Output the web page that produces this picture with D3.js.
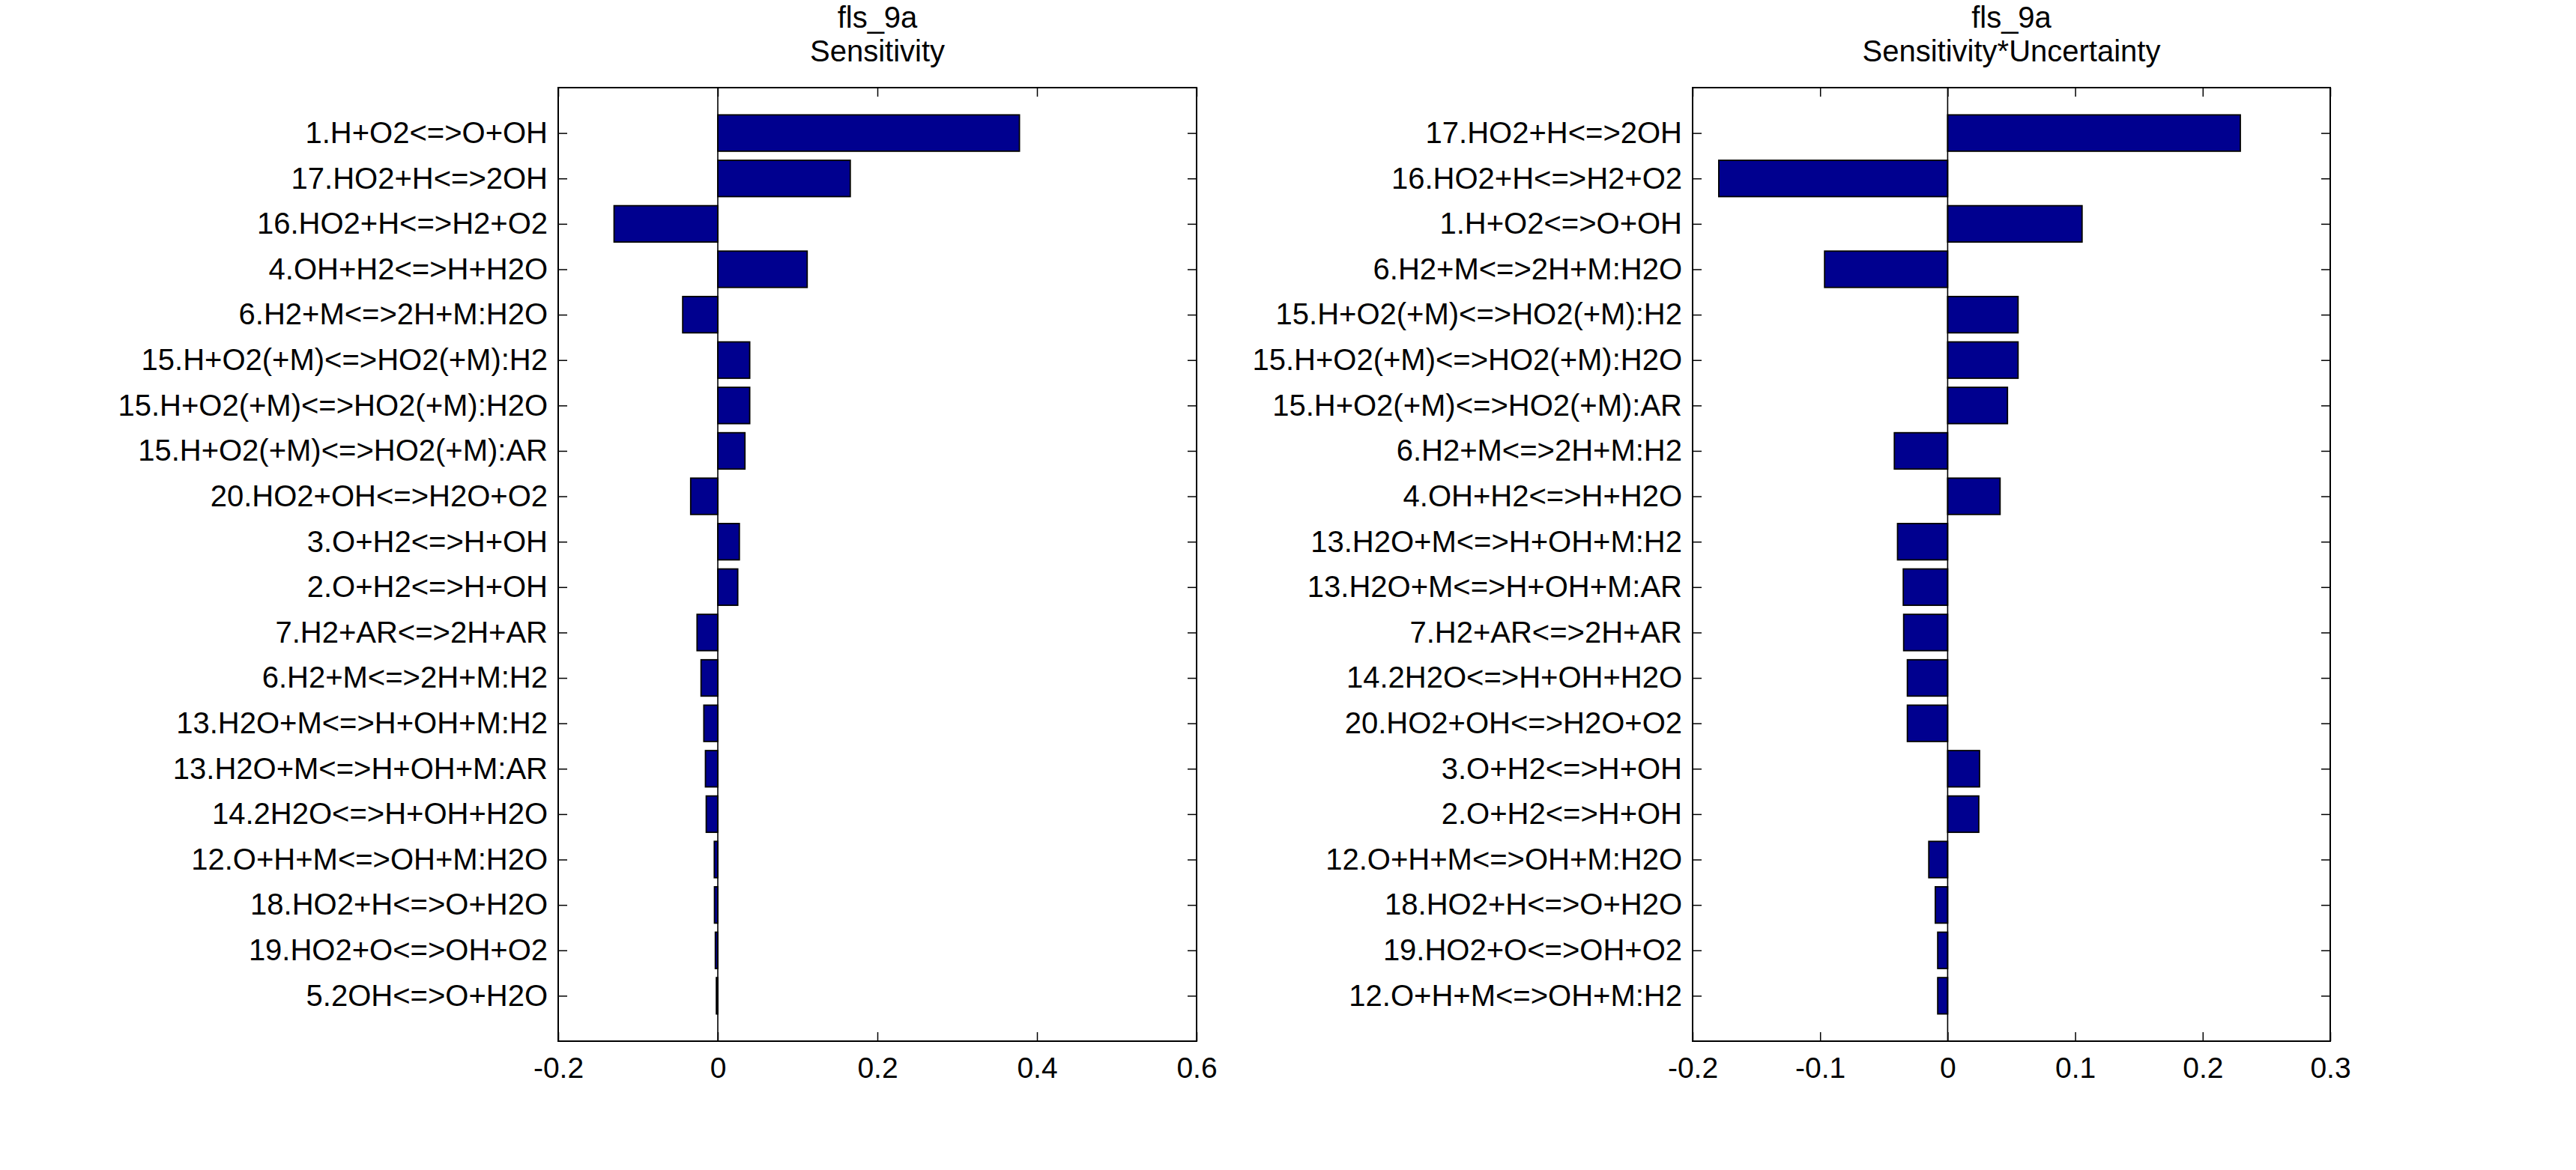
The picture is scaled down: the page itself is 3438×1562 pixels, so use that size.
<!DOCTYPE html>
<html>
<head>
<meta charset="utf-8">
<script src="https://cdn.jsdelivr.net/npm/d3@7"></script>
<style>
  html, body { margin: 0; padding: 0; background: #fff; }
  svg { display: block; }
  text { font-family: "Liberation Sans", Arial, Helvetica, sans-serif; fill: #000; }
</style>
</head>
<body>
<svg id="chart" width="3438" height="1562"></svg>
<script>
// ---- data ----
var titleTop = "fls_9a";

var sensLabels = [
    "1.H+O2<=>O+OH", "17.HO2+H<=>2OH", "16.HO2+H<=>H2+O2", "4.OH+H2<=>H+H2O",
    "6.H2+M<=>2H+M:H2O", "15.H+O2(+M)<=>HO2(+M):H2", "15.H+O2(+M)<=>HO2(+M):H2O",
    "15.H+O2(+M)<=>HO2(+M):AR", "20.HO2+OH<=>H2O+O2", "3.O+H2<=>H+OH", "2.O+H2<=>H+OH",
    "7.H2+AR<=>2H+AR", "6.H2+M<=>2H+M:H2", "13.H2O+M<=>H+OH+M:H2", "13.H2O+M<=>H+OH+M:AR",
    "14.2H2O<=>H+OH+H2O", "12.O+H+M<=>OH+M:H2O", "18.HO2+H<=>O+H2O", "19.HO2+O<=>OH+O2",
    "5.2OH<=>O+H2O"
];
var sensValues = [
    0.378, 0.166, -0.130, 0.112, -0.044, 0.040, 0.040, 0.034, -0.034, 0.027, 0.025,
    -0.026, -0.021, -0.0175, -0.0155, -0.0145, -0.0044, -0.0042, -0.0031, -0.0018
];
var sensTicks = [-0.2, 0, 0.2, 0.4, 0.6];

var suLabels = [
    "17.HO2+H<=>2OH", "16.HO2+H<=>H2+O2", "1.H+O2<=>O+OH", "6.H2+M<=>2H+M:H2O",
    "15.H+O2(+M)<=>HO2(+M):H2", "15.H+O2(+M)<=>HO2(+M):H2O", "15.H+O2(+M)<=>HO2(+M):AR",
    "6.H2+M<=>2H+M:H2", "4.OH+H2<=>H+H2O", "13.H2O+M<=>H+OH+M:H2", "13.H2O+M<=>H+OH+M:AR",
    "7.H2+AR<=>2H+AR", "14.2H2O<=>H+OH+H2O", "20.HO2+OH<=>H2O+O2", "3.O+H2<=>H+OH",
    "2.O+H2<=>H+OH", "12.O+H+M<=>OH+M:H2O", "18.HO2+H<=>O+H2O", "19.HO2+O<=>OH+O2",
    "12.O+H+M<=>OH+M:H2"
];
var suValues = [
    0.2295, -0.1795, 0.1054, -0.0965, 0.0552, 0.0552, 0.0469, -0.0418, 0.0411, -0.0393,
    -0.0348, -0.0345, -0.0316, -0.0316, 0.0250, 0.0244, -0.0148, -0.0097, -0.0078, -0.0078
];
var suTicks = [-0.2, -0.1, 0, 0.1, 0.2, 0.3];

var panels = [
    { sub: "Sensitivity", labels: sensLabels, values: sensValues, ticks: sensTicks, left: 745, right: 1597 },
    { sub: "Sensitivity*Uncertainty", labels: suLabels, values: suValues, ticks: suTicks, left: 2259, right: 3110 }
];

var plotTop = 117, plotBottom = 1390, tickLen = 12, barColor = "#00008f";

var svg = d3.select("#chart");

panels.forEach(function (p) {
    var ticks = p.ticks;
    var x = d3.scaleLinear()
        .domain([ticks[0], ticks[ticks.length - 1]])
        .range([p.left, p.right]);
    var y = d3.scaleLinear()
        .domain([0, p.labels.length + 1])
        .range([plotTop, plotBottom]);
    var rows = d3.range(1, p.labels.length + 1);
    var bw = y(0.8) - y(0);

    var g = svg.append("g");

    // bars
    g.selectAll("rect.bar")
        .data(p.values)
        .enter().append("rect")
        .attr("class", "bar")
        .attr("x", function (d) { return x(Math.min(0, d)); })
        .attr("y", function (d, i) { return y(i + 1) - bw / 2; })
        .attr("width", function (d) { return Math.abs(x(d) - x(0)); })
        .attr("height", bw)
        .attr("fill", barColor)
        .attr("stroke", "#000")
        .attr("stroke-width", 1.8);

    // baseline at zero
    g.append("line")
        .attr("x1", x(0)).attr("x2", x(0))
        .attr("y1", plotTop).attr("y2", plotBottom)
        .attr("stroke", "#000").attr("stroke-width", 1.6);

    // axes (ticks point inward)
    var fmt = function (d) { return d === 0 ? "0" : String(d); };

    var xb = g.append("g").attr("transform", "translate(0," + plotBottom + ")")
        .call(d3.axisBottom(x).tickValues(ticks).tickFormat(fmt)
            .tickSize(-tickLen).tickSizeOuter(0).tickPadding(21));
    var xt = g.append("g").attr("transform", "translate(0," + plotTop + ")")
        .call(d3.axisTop(x).tickValues(ticks).tickFormat("")
            .tickSize(-tickLen).tickSizeOuter(0));
    var yl = g.append("g").attr("transform", "translate(" + p.left + ",0)")
        .call(d3.axisLeft(y).tickValues(rows)
            .tickFormat(function (d) { return p.labels[d - 1]; })
            .tickSize(-tickLen).tickSizeOuter(0).tickPadding(14));
    var yr = g.append("g").attr("transform", "translate(" + p.right + ",0)")
        .call(d3.axisRight(y).tickValues(rows).tickFormat("")
            .tickSize(-tickLen).tickSizeOuter(0));

    [xb, xt, yl, yr].forEach(function (a) {
        a.select(".domain").remove();
        a.selectAll(".tick line").attr("stroke", "#000").attr("stroke-width", 1.5);
        a.selectAll("text").attr("fill", "#000")
            .style("font-family", "'Liberation Sans', Arial, Helvetica, sans-serif");
    });
    xb.selectAll("text").style("font-size", "39px");
    yl.selectAll("text").style("font-size", "40px");

    // axes box
    g.append("rect")
        .attr("x", p.left).attr("y", plotTop)
        .attr("width", p.right - p.left).attr("height", plotBottom - plotTop)
        .attr("fill", "none").attr("stroke", "#000").attr("stroke-width", 2);

    // title
    var cx = (p.left + p.right) / 2;
    g.append("text").attr("x", cx).attr("y", 37)
        .attr("text-anchor", "middle").style("font-size", "40px").text(titleTop);
    g.append("text").attr("x", cx).attr("y", 82)
        .attr("text-anchor", "middle").style("font-size", "40px").text(p.sub);
});
</script>
</body>
</html>
